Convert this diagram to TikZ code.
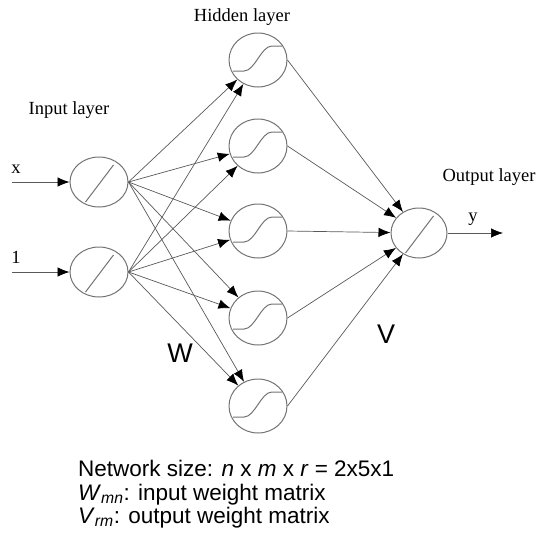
\documentclass[tikz,border=0pt]{standalone}
\usepackage{fontspec}
\setmainfont{Liberation Serif}
\setsansfont{Liberation Sans}
\usetikzlibrary{arrows.meta}
\usetikzlibrary{positioning}
\usetikzlibrary{shapes.geometric}

\begin{document}
\begin{tikzpicture}[x=1pt,y=-1pt,
    neuron/.style={ellipse,draw=black!55,line width=1pt,minimum width=58pt,minimum height=50pt,inner sep=0pt},
    unit/.style={draw=black!55,line width=1pt},
    conn/.style={draw=black!65,line width=0.7pt,-{Latex[black,length=12pt,width=9.5pt]}},
    lbl/.style={font=\fontsize{18.5}{21}\selectfont},
    wlbl/.style={font=\sffamily\fontsize{27}{30}\selectfont}]
  \useasboundingbox (0,0) rectangle (540,533);
  %input layer
  \node[neuron] (in1) at (99,182) {};
  \node[neuron] (in2) at (99,272) {};
  %hidden layer
  \foreach \k/\yy in {1/60,2/146,3/231,4/318,5/406}
    \node[neuron,minimum width=58pt,minimum height=54pt] (h\k) at (258,\yy) {};
  %output layer
  \node[neuron,minimum width=56pt] (out) at (419,233) {};

  %linear units
  \foreach \n in {in1,in2,out}{
    \begin{scope}[shift={(\n.center)}]
      \draw[unit] (-13.5,20) -- (14.5,-17);
    \end{scope}
  }
  %sigmoid units
  \foreach \k in {1,...,5}{
    \begin{scope}[shift={(h\k.center)}]
      \draw[unit] (-25,11) -- (-14,11) .. controls (-3,11) and (3,-14) .. (14,-14) -- (24,-14);
    \end{scope}
  }

  %weights W and V
  \foreach \i in {in1,in2}
    \foreach \k in {1,...,5}
      \draw[conn] (\i.east) -- (h\k);
  \foreach \k in {1,...,5}
    \draw[conn] (h\k.east) -- (out);

  %inputs and output
  \coordinate (xin) at (12,182);
  \coordinate (onein) at (12,272);
  \coordinate (yout) at (503,233);
  \draw[conn] (xin) -- (in1);
  \draw[conn] (onein) -- (in2);
  \draw[conn] (out.east) -- (yout);
  \node[lbl] (xlab) at (16,169) {x};
  \node[lbl] (onelab) at (16,257) {1};
  \node[lbl] (ylab) at (473,219) {y};

  %layer names
  \node[lbl] (hidlab) at (242,17) {Hidden layer};
  \node[lbl] (inlab) at (69,110) {Input layer};
  \node[lbl] (outlab) at (489,177) {Output layer};
  \node[wlbl] (wlab) at (180,353) {W};
  \node[wlbl] (vlab) at (386,334) {V};

  %caption
  \node[anchor=north west,align=left,inner sep=0pt,font=\sffamily\fontsize{22.5}{23.5}\selectfont] (cap) at (78,460)
    {Network size: \textit{n} x \textit{m} x \textit{r} = 2x5x1\\
     \textit{W}\textsubscript{\textit{mn}}: input weight matrix\\
     \textit{V}\textsubscript{\textit{rm}}: output weight matrix};
\end{tikzpicture}
\end{document}
